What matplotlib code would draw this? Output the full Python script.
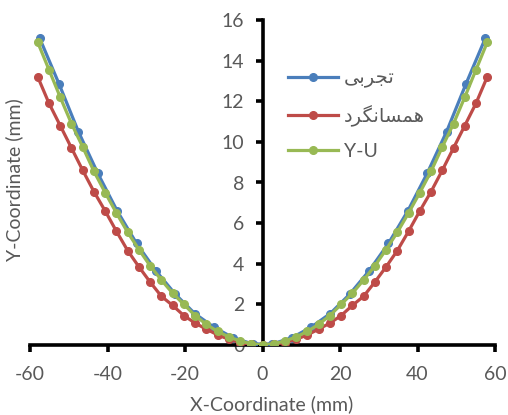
import numpy as np
import matplotlib
matplotlib.use("Agg")
import matplotlib.pyplot as plt

# --- data ---
blue_x_half = [-57.5, -52.5, -47.5, -42.5, -37.5, -32.5, -27.5, -22.5, -17.5, -12.5, -7.5, -2.5]
blue_y_half = [15.1, 12.85, 10.5, 8.45, 6.6, 5.0, 3.65, 2.5, 1.55, 0.87, 0.35, 0.05]

model_x_half = [-58.0, -55.1, -52.2, -49.3, -46.4, -43.5, -40.6, -37.7, -34.8, -31.9, -29.0,
                -26.1, -23.2, -20.3, -17.4, -14.5, -11.6, -8.7, -5.8, -2.9, 0.0]
red_y_half = [13.2, 11.9, 10.8, 9.7, 8.6, 7.55, 6.6, 5.6, 4.65, 3.85, 3.1,
              2.4, 1.95, 1.45, 1.08, 0.78, 0.5, 0.28, 0.12, 0.03, 0.0]
green_y_half = [14.9, 13.55, 12.2, 10.9, 9.75, 8.55, 7.5, 6.5, 5.55, 4.7, 3.9,
                3.2, 2.55, 2.0, 1.45, 1.02, 0.67, 0.4, 0.2, 0.06, 0.0]

blue_x = blue_x_half + [-v for v in blue_x_half[::-1]]
blue_y = blue_y_half + blue_y_half[::-1]
model_x = model_x_half + [-v for v in model_x_half[-2::-1]]
red_y = red_y_half + red_y_half[-2::-1]
green_y = green_y_half + green_y_half[-2::-1]

# Persian labels in presentation forms, visual order (matplotlib has no shaping)
lbl_exp = "\uFBFD\uFE91\uFEAE\uFEA0\uFE97"              # تجربی
lbl_iso = "\uFEA9\uFEAE\uFB95\uFEE7\uFE8E\uFEB4\uFEE4\uFEEB"  # همسانگرد
lbl_yu = "Y-U"

x_ticks = [-60, -40, -20, 0, 20, 40, 60]
y_ticks = [0, 2, 4, 6, 8, 10, 12, 14, 16]

plt.rcParams['font.family'] = ['Lato', 'DejaVu Sans']
plt.rcParams['axes.unicode_minus'] = False
gray = '#595959'

fig = plt.figure(figsize=(5.08, 4.15), dpi=100)
ax = fig.add_axes([30/508, 70/415, 465/508, 325/415])

lw = 2.3
ms = 5.5
ax.plot(blue_x, blue_y, '-o', color='#4A7EBB', lw=lw, ms=ms, label=lbl_exp, zorder=3)
ax.plot(model_x, red_y, '-o', color='#BE4B48', lw=lw, ms=ms, label=lbl_iso, zorder=3)
ax.plot(model_x, green_y, '-o', color='#98B954', lw=lw, ms=ms, label=lbl_yu, zorder=4)

ax.set_xlim(-60, 60)
ax.set_ylim(0, 16)
ax.set_xticks(x_ticks)
ax.set_yticks(y_ticks)

for s in ['top', 'right']:
    ax.spines[s].set_visible(False)
ax.spines['left'].set_position(('data', 0))
ax.spines['bottom'].set_position(('data', 0))
for s in ['left', 'bottom']:
    ax.spines[s].set_linewidth(2.6)
    ax.spines[s].set_color('black')
    ax.spines[s].set_zorder(2)

ax.tick_params(axis='both', direction='out', length=5, width=2.6, colors='black',
               labelcolor=gray, labelsize=14)
ax.tick_params(axis='x', pad=10)
ax.tick_params(axis='y', pad=8)

fig.text(272/508, 1 - 404/415, 'X-Coordinate (mm)', ha='center', va='center',
         color=gray, fontsize=14)
fig.text(14/508, 1 - 180/415, 'Y-Coordinate (mm)', ha='center', va='center',
         rotation=90, color=gray, fontsize=14)

leg = ax.legend(loc='upper left', bbox_to_anchor=(280/508, 1 - 62/415),
                bbox_transform=fig.transFigure, frameon=False, fontsize=14,
                handlelength=2.6, labelspacing=0.85, handletextpad=0.3,
                borderaxespad=0)
for t in leg.get_texts():
    t.set_color(gray)

fig.savefig('out.png', dpi=100, facecolor='white')
